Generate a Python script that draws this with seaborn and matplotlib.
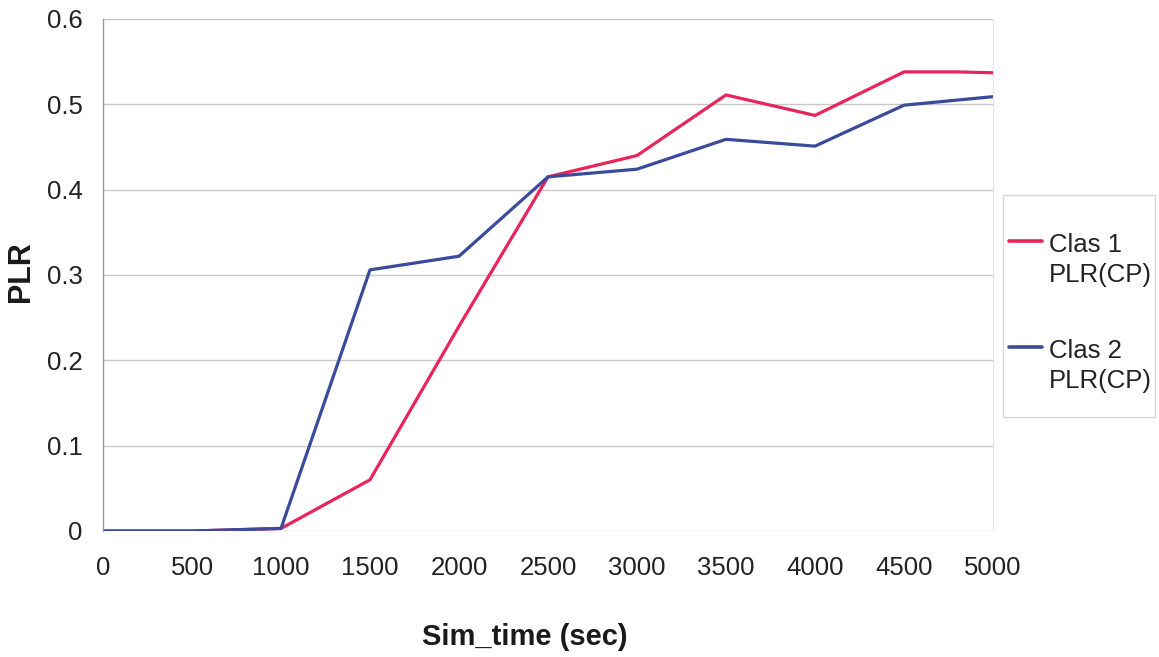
import matplotlib
matplotlib.use("Agg")
import matplotlib.pyplot as plt
import seaborn as sns
import pandas as pd
import numpy as np
from matplotlib.lines import Line2D
from matplotlib.patches import Rectangle
from matplotlib.legend_handler import HandlerLine2D

sim_time = [0, 200, 500, 1000, 1500, 2000, 2500, 3000, 3500, 4000, 4500, 4800, 5000]
clas1 = [0.0, 0.0, 0.0, 0.003, 0.060, 0.240, 0.415, 0.440, 0.511, 0.487, 0.538, 0.538, 0.537]
clas2 = [0.0, 0.0, 0.0, 0.003, 0.306, 0.322, 0.415, 0.424, 0.459, 0.451, 0.499, 0.505, 0.509]
series_names = ["Clas 1\nPLR(CP)", "Clas 2\nPLR(CP)"]
x_ticks = [0, 500, 1000, 1500, 2000, 2500, 3000, 3500, 4000, 4500, 5000]
y_ticks = [0, 0.1, 0.2, 0.3, 0.4, 0.5, 0.6]
y_tick_labels = ["0", "0.1", "0.2", "0.3", "0.4", "0.5", "0.6"]
colors = ["#e8245a", "#3a4b9c"]

df = pd.DataFrame({
    "Sim_time": sim_time * 2,
    "PLR": clas1 + clas2,
    "series": [series_names[0]] * len(sim_time) + [series_names[1]] * len(sim_time),
})

sns.set_style("white")
plt.rcParams["font.family"] = ["Liberation Sans", "DejaVu Sans"]

W, H = 1159, 657
fig = plt.figure(figsize=(W / 100, H / 100), dpi=100)
ax = fig.add_axes([103 / W, 1 - 531 / H, (993 - 103) / W, (531 - 19) / H])

sns.lineplot(data=df, x="Sim_time", y="PLR", hue="series",
             palette=colors, linewidth=2.3, ax=ax, legend=False)

ax.set_xlim(0, 5000)
ax.set_ylim(0, 0.6)
ax.set_xticks(x_ticks)
ax.set_yticks(y_ticks)
ax.set_yticklabels(y_tick_labels)
ax.tick_params(axis="both", labelsize=18.5, colors="#222222")
ax.tick_params(axis="x", pad=18, length=0)
ax.tick_params(axis="y", pad=11, direction="inout", length=7, width=0.8, color="#999999")
ax.grid(axis="y", color="#c8c8c8", linewidth=1.0)
for s in ["top", "bottom"]:
    ax.spines[s].set_visible(False)
ax.spines["left"].set_color("#999999")
ax.spines["right"].set_color("#e6e6e6")
ax.spines["left"].set_linewidth(1.0)
ax.set_axisbelow(True)

ax.set_xlabel("Sim_time (sec)", fontsize=21, fontweight="bold", color="#1a1a1a", va="center")
ax.xaxis.set_label_coords((525 - 103) / 890, (531 - 637) / 512)
ax.set_ylabel("PLR", fontsize=22, fontweight="bold", color="#1a1a1a")
ax.yaxis.set_label_coords((36 - 103) / 890, (531 - 272) / 512)


class UpHandler(HandlerLine2D):
    def create_artists(self, legend, orig_handle, xdescent, ydescent,
                       width, height, fontsize, trans):
        arts = super().create_artists(legend, orig_handle, xdescent, ydescent,
                                      width, height, fontsize, trans)
        for a in arts:
            a.set_ydata(np.asarray(a.get_ydata()) + 0.75 * fontsize)
        return arts


# legend frame (drawn as in the reference: wide vertical padding, narrow sides)
fig.patches.append(Rectangle((1003 / W, 1 - 417 / H), 152 / W, 222 / H,
                             transform=fig.transFigure, fill=False,
                             edgecolor="#d8d8d8", linewidth=1.0))

handles = [Line2D([], [], color=c, linewidth=2.6) for c in colors]
leg = fig.legend(handles, series_names, loc="upper left",
                 bbox_to_anchor=(1009 / W, 1 - 233 / H),
                 fontsize=18.5, frameon=False,
                 labelspacing=2.05, handlelength=1.3,
                 handletextpad=0.25, borderpad=0, borderaxespad=0,
                 handler_map={Line2D: UpHandler()})
for t in leg.get_texts():
    t.set_linespacing(1.3)
    t.set_color("#222222")

fig.savefig("out.png", dpi=100, facecolor="white")
